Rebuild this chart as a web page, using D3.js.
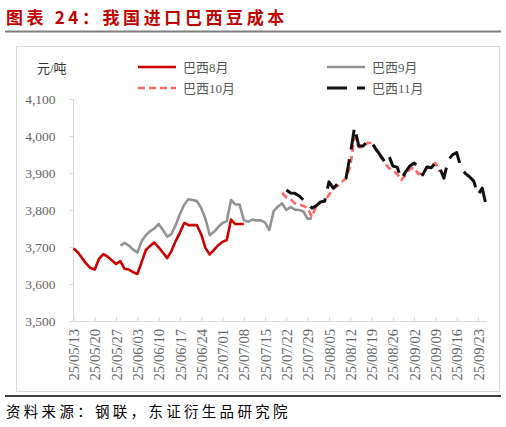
<!DOCTYPE html>
<meta charset="utf-8">
<style>
body { margin: 0; background: #fff; }
.title { font-family: "Noto Sans CJK SC", sans-serif; font-weight: bold; fill: #c00000; }
.cjk { font-family: "Liberation Serif", "Noto Sans CJK SC", serif; }
.tick text { font-family: "Liberation Serif", serif; fill: #666; }
</style>
<body>
<script src="https://cdn.jsdelivr.net/npm/d3@7/dist/d3.min.js"></script>
<script>
// business days 2025-05-13 .. 2025-09-25
var categories = d3.timeDays(new Date(2025, 4, 13), new Date(2025, 8, 26))
    .filter(function(d) { return d.getDay() !== 0 && d.getDay() !== 6; });
var fmt = d3.timeFormat("%y/%m/%d");

var tickLabels = ["25/05/13","25/05/20","25/05/27","25/06/03","25/06/10","25/06/17","25/06/24",
  "25/07/01","25/07/08","25/07/15","25/07/22","25/07/29","25/08/05","25/08/12","25/08/19",
  "25/08/26","25/09/02","25/09/09","25/09/16","25/09/23"];
var yTicks = [3500, 3600, 3700, 3800, 3900, 4000, 4100];

function pad(n) { return Array(n).fill(null); }

// 巴西8月
var brazilAug = [3696,3686,3670,3655,3643,3639,3668,3681,3674,3664,3654,3662,3641,3639,3632,
  3627,3659,3692,3703,3712,3699,3685,3670,3689,3716,3739,3765,3759,3759,3759,3734,3697,3680,
  3692,3705,3714,3719,3774,3762,3762,3762];
// 巴西9月
var brazilSep = pad(11).concat([3704,3711,3704,3693,3685,3716,3732,3743,3750,3762,3746,3728,
  3735,3759,3789,3814,3829,3827,3824,3805,3776,3732,3741,3754,3765,3770,3827,3815,3815,3773,
  3768,3774,3772,3772,3766,3746,3797,3809,3818,3800,3808,3801,3800,3796,3776,3778]);
// 巴西10月
var brazilOct = pad(49).concat([3846,3834,3829,3818,3815,3811,3805,3781,3811,3820,3823,3841,
  3857,3865,3876,3886,3919,3997,3970,3970,3981,3981,3962,3946,3930,3914,3908,3897,3881,3895,
  3911,3914,3897,3900,3914,3919,3927,3903]);
// 巴西11月
var brazilNov = pad(50).concat([3854,3846,3845,3838,3827,3819,3805,3811,3822,3824,3876,3859,
  3870,3878,3886,3949,4024,3973,3973,3986,3984,3965,3949,3932,3949,3919,3916,3884,3903,3919,
  3927,3916,3895,3916,3914,3927,3914,3886,3935,3949,3955,3914,3899,3890,3878,3841,3859,3808]);

var series = [
  {name: "巴西8月", values: brazilAug, color: "#cc0000", width: 2.6, dash: null},
  {name: "巴西9月", values: brazilSep, color: "#929292", width: 2.6, dash: null},
  {name: "巴西10月", values: brazilOct, color: "#ff6666", width: 2.6, dash: "7,4"},
  {name: "巴西11月", values: brazilNov, color: "#111111", width: 3, dash: "20,10"}
];

var W = 506, H = 427;
var svg = d3.select("body").append("svg").attr("width", W).attr("height", H);

// title + rules
svg.append("text").attr("class", "title").attr("x", 6).attr("y", 24)
  .style("font-size", "17px").style("letter-spacing", "3.6px")
  .text("图表 24：我国进口巴西豆成本");
svg.append("line").attr("x1", 5).attr("x2", 501).attr("y1", 31.5).attr("y2", 31.5)
  .attr("stroke", "#7f7f7f").attr("stroke-width", 2);
svg.append("rect").attr("x", 16.5).attr("y", 46.5).attr("width", 483).attr("height", 345)
  .attr("fill", "none").attr("stroke", "#d9d9d9");
svg.append("line").attr("x1", 5).attr("x2", 501).attr("y1", 396).attr("y2", 396)
  .attr("stroke", "#000").attr("stroke-width", 1.5);
svg.append("text").attr("class", "cjk").attr("x", 6).attr("y", 417)
  .style("font-size", "14.5px").style("letter-spacing", "3.3px").attr("fill", "#000")
  .text("资料来源：钢联，东证衍生品研究院");

var x = d3.scalePoint().domain(categories.map(fmt)).range([73.5, 486.5]).padding(0);
var y = d3.scaleLinear().domain([3500, 4100]).range([321, 99]);

// y axis
var yAxis = svg.append("g").attr("transform", "translate(73.5,0)")
  .call(d3.axisLeft(y).tickValues(yTicks).tickSize(4).tickPadding(14)
    .tickFormat(d3.format(",")));
yAxis.selectAll("line").attr("stroke", "#d9d9d9");
yAxis.select(".domain").attr("stroke", "#d9d9d9").attr("d", "M0,99V321");
yAxis.selectAll("text").style("font-size", "13.5px");

// x axis
var xAxis = svg.append("g").attr("transform", "translate(0,321)")
  .call(d3.axisBottom(x).tickValues(tickLabels).tickSize(-4).tickSizeOuter(0));
xAxis.selectAll("line").attr("stroke", "#d9d9d9");
xAxis.select(".domain").attr("stroke", "#d9d9d9");
xAxis.selectAll("text")
  .style("font-size", "14.5px")
  .attr("text-anchor", "end")
  .attr("transform", "rotate(-90)")
  .attr("x", -8).attr("y", 0).attr("dy", "0.35em");

svg.append("text").attr("class", "cjk").attr("x", 37).attr("y", 73)
  .style("font-size", "13px").attr("fill", "#333").text("元/吨");

var line = d3.line()
  .defined(function(d) { return d != null; })
  .x(function(d, i) { return x(fmt(categories[i])); })
  .y(function(d) { return y(d); });

series.forEach(function(s) {
  svg.append("path").datum(s.values)
    .attr("fill", "none")
    .attr("stroke", s.color)
    .attr("stroke-width", s.width)
    .attr("stroke-dasharray", s.dash)
    .attr("stroke-linejoin", "round")
    .attr("d", line);
});

// legend
var legendPos = [[138, 67], [327, 67], [138, 88], [327, 88]];
series.forEach(function(s, i) {
  var p = legendPos[i];
  var g = svg.append("g").attr("transform", "translate(" + p[0] + "," + p[1] + ")");
  g.append("line").attr("x1", 0).attr("x2", 38)
    .attr("stroke", s.color).attr("stroke-width", s.width)
    .attr("stroke-dasharray", s.dash);
  g.append("text").attr("class", "cjk").attr("x", 45).attr("y", 5)
    .style("font-size", "13px").attr("fill", "#595959").text(s.name);
});
</script>
</body>
